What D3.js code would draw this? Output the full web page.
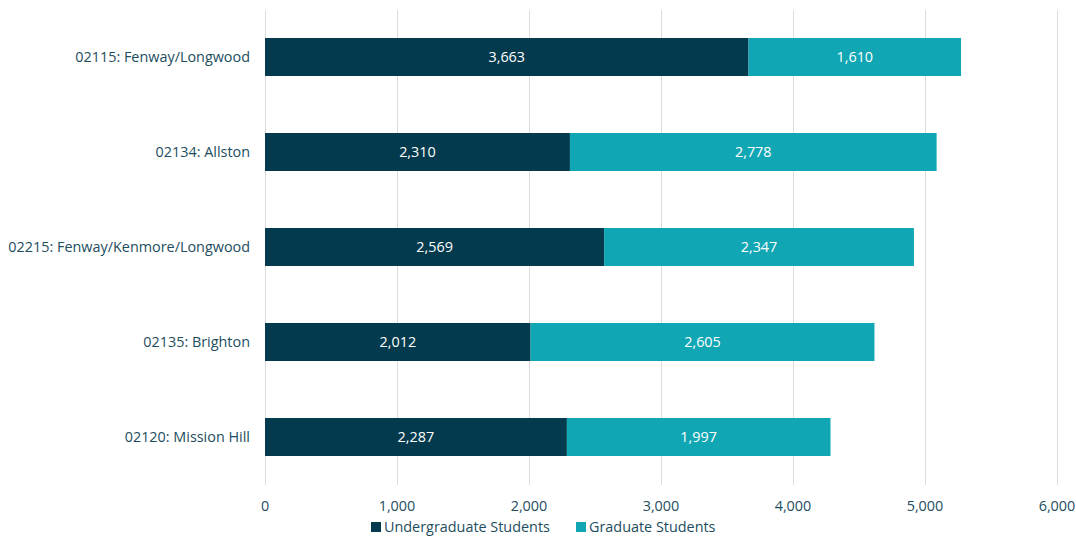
<!DOCTYPE html>
<html lang="en">
<head>
  <meta charset="utf-8">
  <title>Students by zip code</title>
  <script src="https://cdn.jsdelivr.net/npm/d3@7"></script>
  <style>
    body { margin: 0; background: #fff; }
    text { font-family: "Open Sans", sans-serif; }
  </style>
</head>
<body>
  <script>
  // data
  var zips = ["02115: Fenway/Longwood", "02134: Allston", "02215: Fenway/Kenmore/Longwood", "02135: Brighton", "02120: Mission Hill"];
  var undergrad = [3663, 2310, 2569, 2012, 2287];
  var graduate = [1610, 2778, 2347, 2605, 1997];
  var seriesNames = ["Undergraduate Students", "Graduate Students"];
  var colors = ["#033a4d", "#10a6b3"];
  var xTicks = [0, 1000, 2000, 3000, 4000, 5000, 6000];

  var width = 1076, height = 537;
  var textColor = "#1d4d5e";
  var fs = "14.4px";

  var svg = d3.select("body").append("svg")
    .attr("width", width)
    .attr("height", height);

  var x = d3.scaleLinear().domain([0, 6000]).range([265, 1057]);
  var y = d3.scaleBand().domain(zips).range([9.5, 484.5]).paddingInner(0.6).paddingOuter(0.3);

  // grid
  svg.append("g")
    .selectAll("line")
    .data(xTicks)
    .enter().append("line")
    .attr("x1", d => x(d) + 0.5)
    .attr("x2", d => x(d) + 0.5)
    .attr("y1", 10)
    .attr("y2", 485)
    .attr("stroke", "#dcdcdc")
    .attr("stroke-width", 1);

  // tick labels
  svg.append("g")
    .selectAll("text")
    .data(xTicks)
    .enter().append("text")
    .attr("x", d => x(d))
    .attr("y", 511)
    .attr("text-anchor", "middle")
    .attr("font-size", fs)
    .attr("fill", textColor)
    .text(d => d3.format(",")(d));

  // category labels
  svg.append("g")
    .selectAll("text")
    .data(zips)
    .enter().append("text")
    .attr("x", 250)
    .attr("y", d => y(d) + y.bandwidth() / 2)
    .attr("dy", "0.35em")
    .attr("text-anchor", "end")
    .attr("font-size", fs)
    .attr("fill", textColor)
    .text(d => d);

  // stacked segments
  var rows = zips.map((z, i) => ({ zip: z, vals: [undergrad[i], graduate[i]] }));
  rows.forEach(function(r) {
    var start = 0;
    r.vals.forEach(function(v, k) {
      var g = svg.append("g");
      g.append("rect")
        .attr("x", x(start))
        .attr("y", y(r.zip))
        .attr("width", x(start + v) - x(start))
        .attr("height", y.bandwidth())
        .attr("fill", colors[k]);
      g.append("text")
        .attr("x", (x(start) + x(start + v)) / 2)
        .attr("y", y(r.zip) + y.bandwidth() / 2)
        .attr("dy", "0.35em")
        .attr("text-anchor", "middle")
        .attr("font-size", fs)
        .attr("fill", "#fff")
        .text(d3.format(",")(v));
      start += v;
    });
  });

  // legend
  var legend = svg.append("g").attr("transform", "translate(371,527)");
  var lx = [0, 205];
  seriesNames.forEach(function(n, k) {
    legend.append("rect")
      .attr("x", lx[k])
      .attr("y", -5)
      .attr("width", 10)
      .attr("height", 10)
      .attr("fill", colors[k]);
    legend.append("text")
      .attr("x", lx[k] + 13)
      .attr("y", 0)
      .attr("dy", "0.35em")
      .attr("font-size", fs)
      .attr("fill", textColor)
      .text(n);
  });
  </script>
</body>
</html>
